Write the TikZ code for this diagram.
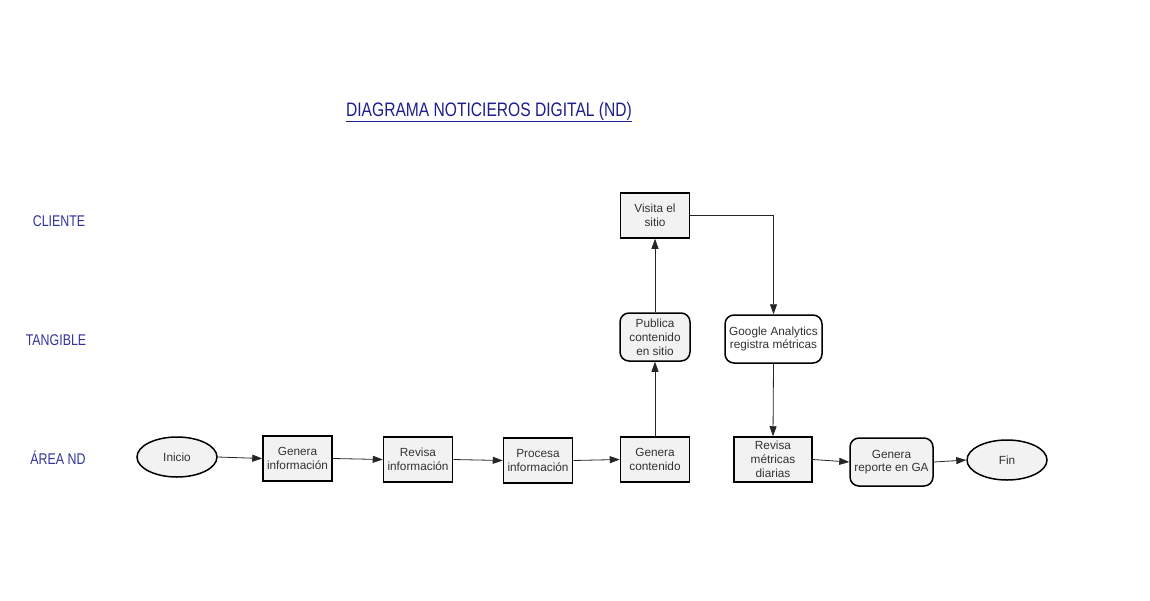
\documentclass[tikz,border=0pt]{standalone}
\usepackage{fontspec}
\setmainfont{Liberation Sans}
\newfontfamily\narrowfont[FakeStretch=0.8]{Liberation Sans}
\usetikzlibrary{arrows.meta,shapes.geometric}
\definecolor{lblue}{RGB}{51,51,153}
\definecolor{tblue}{RGB}{30,30,140}
\definecolor{boxfill}{RGB}{242,242,242}
\begin{document}
\begin{tikzpicture}[x=1pt,y=-1pt,
  proc/.style={draw=black,line width=1.5pt,fill=boxfill,minimum width=69pt,minimum height=45pt,inner sep=1pt,align=center,text=black!80,font=\fontsize{11.8}{13.8}\selectfont},
  rproc/.style={proc,rounded corners=9pt,minimum height=48pt},
  term/.style={ellipse,draw=black,line width=1.5pt,fill=boxfill,minimum width=80pt,minimum height=40pt,inner sep=1pt,text=black!80,font=\fontsize{11.8}{13.8}\selectfont},
  conn/.style={draw=black!85,line width=0.8pt,-{Triangle[length=10pt,width=7pt]}},
  lane/.style={text=lblue,font=\narrowfont\fontsize{15.5}{17}\selectfont}]
\useasboundingbox (0,0) rectangle (1150,600);
\fill[white] (0,0) rectangle (1150,600);

\node[text=tblue,font=\narrowfont\fontsize{19.5}{21}\selectfont] (title) at (489,112) {\underline{DIAGRAMA NOTICIEROS DIGITAL (ND)}};

\node[lane] (l1) at (59,221) {CLIENTE};
\node[lane] (l2) at (56,340) {TANGIBLE};
\node[lane] (l3) at (58,458) {ÁREA ND};

\node[term] (inicio) at (177,457) {Inicio};
\node[proc] (geninfo) at (297.5,458.5) {Genera\\información};
\node[proc] (revinfo) at (418,459.5) {Revisa\\información};
\node[proc] (procinfo) at (538,460.5) {Procesa\\información};
\node[proc] (gencont) at (655,459.5) {Genera\\contenido};
\node[rproc,minimum width=70pt] (publica) at (655,337) {Publica\\contenido\\en sitio};
\node[proc] (visita) at (655,215.5) {Visita el\\sitio};
\node[rproc,fill=white,minimum width=97pt] (ga) at (773.5,339) {Google Analytics\\registra métricas};
\node[proc,minimum width=78pt] (revmet) at (773,459.5) {Revisa\\métricas\\diarias};
\node[rproc,minimum width=83pt] (genrep) at (891.5,462) {Genera\\reporte en GA};
\node[term] (fin) at (1007,460) {Fin};

\draw[conn] (inicio.east) -- (geninfo.west);
\draw[conn] (geninfo.east) -- (revinfo.west);
\draw[conn] (revinfo.east) -- (procinfo.west);
\draw[conn] (procinfo.east) -- (gencont.west);
\draw[conn] (gencont.north) -- (publica.south);
\draw[conn] (publica.north) -- (visita.south);
\draw[conn] (visita.east) -| (ga.north);
\draw[conn] (ga.south) -- (revmet.north);
\draw[conn] (revmet.east) -- (genrep.west);
\draw[conn] (genrep.east) -- (fin.west);
\end{tikzpicture}
\end{document}
